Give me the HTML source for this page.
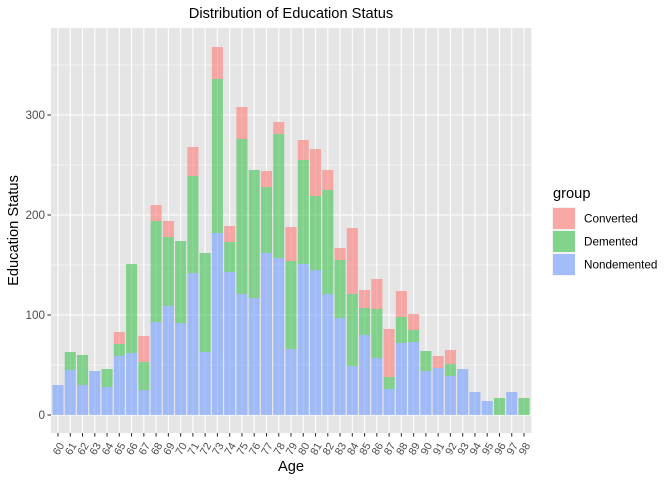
<!DOCTYPE html>
<html>
<head>
<meta charset="utf-8">
<title>Distribution of Education Status</title>
<style>
html,body{margin:0;padding:0;background:#fff;width:672px;height:480px;overflow:hidden}
svg{display:block;font-family:"Liberation Sans",Arial,sans-serif}
</style>
</head>
<body>
<svg id="chart" width="672" height="480" viewBox="0 0 672 480" xmlns="http://www.w3.org/2000/svg">
  <rect x="51" y="28" width="480.4" height="405" fill="#e5e5e5"/>
  <g id="grid"></g>
  <g id="bars"></g>
  <g id="xaxis"></g>
  <g id="yaxis"></g>
  <text x="291" y="18" font-size="14.67" text-anchor="middle" fill="#000">Distribution of Education Status</text>
  <text x="291" y="471" font-size="14.67" text-anchor="middle" fill="#000">Age</text>
  <text transform="translate(18,230.5) rotate(-90)" font-size="14.67" text-anchor="middle" fill="#000">Education Status</text>
  <g id="legend">
    <text x="553" y="198" font-size="14.67" fill="#000">group</text>
  </g>
</svg>
<script>
const ages = [60,61,62,63,64,65,66,67,68,69,70,71,72,73,74,75,76,77,78,79,80,81,82,83,84,85,86,87,88,89,90,91,92,93,94,95,96,97,98];
const nondemented = [30,45,30,44,28,59,62,25,93,109,92,142,63,182,143,121,117,162,157,66,151,145,121,97,49,80,57,26,72,73,44,47,39,46,23,14,0,23,0];
const demented = [0,18,30,0,18,12,89,28,101,69,82,97,99,154,30,155,128,66,124,88,104,74,104,58,72,27,49,12,26,12,20,0,12,0,0,0,17,0,17];
const converted = [0,0,0,0,0,12,0,26,16,16,0,29,0,32,16,32,0,16,12,34,20,47,20,12,66,18,30,48,26,16,0,12,14,0,0,0,0,0,0];
const yTicks = [0,100,200,300];
const yMinorTicks = [50,150,250,350];
const groupNames = ['Converted','Demented','Nondemented'];

const NS = 'http://www.w3.org/2000/svg';
const panel = {left:51, right:531.4, top:28, bottom:433};
const fills = {Converted:'#FC7C77', Demented:'#3EC24F', Nondemented:'#729DFF'};
const fillAlpha = 0.6;

function xScale(age){ return 58 + (age - 60) * (524 - 58) / 38; }
function yScale(v){ return 415 - v * (300 / 300); }
const barWidth = 0.9 * (524 - 58) / 38;

function make(tag, attrs, parent){
  const el = document.createElementNS(NS, tag);
  for (const k in attrs) el.setAttribute(k, attrs[k]);
  parent.appendChild(el);
  return el;
}

const grid = document.getElementById('grid');
yMinorTicks.forEach(function(t){
  const el = make('line',{x1:panel.left,x2:panel.right,y1:yScale(t),y2:yScale(t),stroke:'#fff','stroke-width':0.55},grid);
  
  
});
yTicks.forEach(function(t){
  const el = make('line',{x1:panel.left,x2:panel.right,y1:yScale(t),y2:yScale(t),stroke:'#fff','stroke-width':1.07},grid);
  
  
});
ages.forEach(function(a){
  const el = make('line',{x1:xScale(a),x2:xScale(a),y1:panel.top,y2:panel.bottom,stroke:'#fff','stroke-width':1.07},grid);
  
  
});

const bars = document.getElementById('bars');
ages.forEach(function(a,i){
  const stack = [['Nondemented',nondemented[i]],['Demented',demented[i]],['Converted',converted[i]]];
  let base = 0;
  stack.forEach(function(s){
    if (s[1] > 0) {
      const top = base + s[1];
      const r = make('rect',{x:xScale(a)-barWidth/2,y:yScale(top),width:barWidth,height:yScale(base)-yScale(top),fill:fills[s[0]],'fill-opacity':fillAlpha},bars);
      
      
      base = top;
    }
  });
});

const xaxis = document.getElementById('xaxis');
ages.forEach(function(a){
  const x = xScale(a);
  const tick = make('line',{x1:x,x2:x,y1:433,y2:436.6,stroke:'#333','stroke-width':1.07},xaxis);
  
  
  const t = make('text',{transform:'translate('+(x+1)+',449) rotate(-60)','font-size':10.8,'text-anchor':'middle','dominant-baseline':'central',fill:'#4d4d4d'},xaxis);
  t.textContent = a;
  
  
});

const yaxis = document.getElementById('yaxis');
yTicks.forEach(function(v){
  const y = yScale(v);
  const tick = make('line',{x1:47.4,x2:51,y1:y,y2:y,stroke:'#333','stroke-width':1.07},yaxis);
  
  
  const t = make('text',{x:45,y:y+4,'font-size':11.7,'text-anchor':'end',fill:'#4d4d4d'},yaxis);
  t.textContent = v;
  
  
});

const legend = document.getElementById('legend');
groupNames.forEach(function(g,i){
  const y = 207 + i * 23;
  const bg = make('rect',{x:552,y:y,width:23.04,height:23.04,fill:'#f2f2f2'},legend);
  
  
  const k = make('rect',{x:553,y:y+1,width:22,height:21,fill:fills[g],'fill-opacity':0.62},legend);
  
  
  const t = make('text',{x:584,y:y+15.5,'font-size':11.7,fill:'#000'},legend);
  t.textContent = g;
  
  
});
</script>
</body>
</html>
